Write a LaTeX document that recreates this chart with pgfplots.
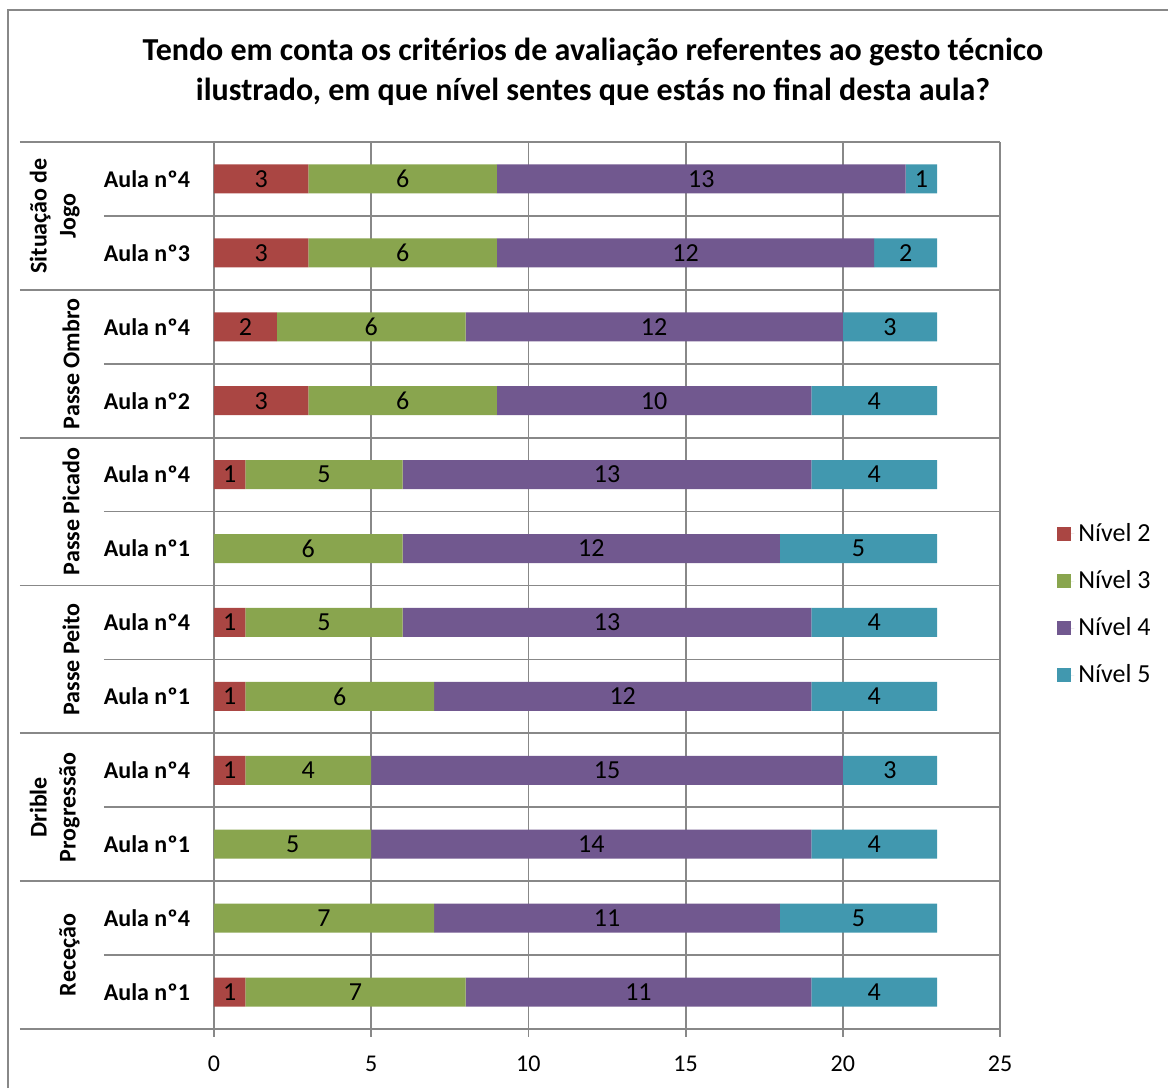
\documentclass[border=0pt]{standalone}
\usepackage{fontspec}
\setmainfont{Carlito}
\usepackage{pgfplots}
\usepackage{pgfplotstable}
\pgfplotsset{compat=1.18}
\definecolor{c2}{HTML}{AA4643}
\definecolor{c3}{HTML}{89A54E}
\definecolor{c4}{HTML}{71588F}
\definecolor{c5}{HTML}{4198AF}
\definecolor{gridc}{HTML}{888888}
\pgfplotstableread{
row n2 n3 n4 n5
0 1 7 11 4
1 0 7 11 5
2 0 5 14 4
3 1 4 15 3
4 1 6 12 4
5 1 5 13 4
6 0 6 12 5
7 1 5 13 4
8 3 6 10 4
9 2 6 12 3
10 3 6 12 2
11 3 6 13 1
}\data
\pgfplotsset{
  common/.style={at={(107pt,29.5pt)}, anchor=south west,
    width=393pt, height=443.5pt, scale only axis,
    xmin=0, xmax=25, ymin=-0.5, ymax=11.5, clip=false},
}
\tikzset{glab/.style={rotate=90, anchor=south, inner sep=0pt, align=center, font=\bfseries\fontsize{12}{14.5}\selectfont}}
\begin{document}
\begin{tikzpicture}[x=1pt,y=1pt]
\path[use as bounding box] (0,0) rectangle (584,544);
\draw[gridc, line width=1pt] (4,0) -- (4,539) -- (584,539);
\node[font=\bfseries\fontsize{16}{20}\selectfont, align=center] at (296.5,508) {Tendo em conta os critérios de avaliação referentes ao gesto técnico\\ilustrado, em que nível sentes que estás no final desta aula?};
\begin{axis}[
  common,
  xbar stacked, bar width=14.5pt,
  xtick={0,5,...,25},
  ytick={0,...,11},
  yticklabels={Aula nº1, Aula nº4, Aula nº1, Aula nº4, Aula nº1, Aula nº4, Aula nº1, Aula nº4, Aula nº2, Aula nº4, Aula nº3, Aula nº4},
  axis line style={draw=none},
  xmajorgrids, grid style={gridc, line width=0.9pt},
  xtick pos=left, tick align=outside, major tick length=4pt,
  xtick style={draw=gridc, line width=0.9pt},
  ytick style={draw=none},
  /pgf/number format/assume math mode=true,
  tick label style={font=\fontsize{12}{14}\selectfont},
  yticklabel style={font=\bfseries\fontsize{12}{14}\selectfont, xshift=-4.5pt},
  xticklabel style={yshift=-6pt},
  legend style={at={(1.0725,0.4785)}, anchor=west, draw=none, fill=none, font=\fontsize{13}{15}\selectfont, row sep=9pt, inner sep=0pt},
  legend cell align=left,
  legend image code/.code={\fill[#1] (0pt,-3.5pt) rectangle (7pt,3.5pt); \path (0pt,0pt) -- (8.5pt,0pt);},
]
\addplot[fill=c2, draw=none] table[x=n2, y=row] {\data};
\addplot[fill=c3, draw=none] table[x=n3, y=row] {\data};
\addplot[fill=c4, draw=none] table[x=n4, y=row] {\data};
\addplot[fill=c5, draw=none] table[x=n5, y=row] {\data};
\legend{Nível 2, Nível 3, Nível 4, Nível 5}
\pgfplotsinvokeforeach{-0.5,1.5,3.5,5.5,7.5,9.5,11.5}{
  \draw[gridc, line width=0.9pt] ([xshift=-97pt]axis cs:0,#1) -- (axis cs:25,#1);
}
\pgfplotsinvokeforeach{0.5,2.5,4.5,6.5,8.5,10.5}{
  \draw[gridc, line width=0.9pt] ([xshift=-55pt]axis cs:0,#1) -- (axis cs:25,#1);
}
\node[glab] at ([xshift=-67pt]axis cs:0,0.5) {Receção};
\node[glab] at ([xshift=-67pt]axis cs:0,2.5) {Drible\\Progressão};
\node[glab] at ([xshift=-67pt]axis cs:0,4.5) {Passe Peito};
\node[glab] at ([xshift=-67pt]axis cs:0,6.5) {Passe Picado};
\node[glab] at ([xshift=-67pt]axis cs:0,8.5) {Passe Ombro};
\node[glab] at ([xshift=-67pt]axis cs:0,10.5) {Situação de\\Jogo};
\end{axis}
\begin{axis}[common, hide axis]
\addplot[only marks, mark=*, mark size=0pt, mark options={draw=none, fill=none},
  point meta=explicit symbolic, nodes near coords,
  every node near coord/.append style={anchor=center, font=\fontsize{13}{15}\selectfont, text=black, inner sep=0pt}]
coordinates {
(0.5,0)[1] (4.5,0)[7] (13.5,0)[11] (21,0)[4]
(3.5,1)[7] (12.5,1)[11] (20.5,1)[5]
(2.5,2)[5] (12,2)[14] (21,2)[4]
(0.5,3)[1] (3,3)[4] (12.5,3)[15] (21.5,3)[3]
(0.5,4)[1] (4,4)[6] (13,4)[12] (21,4)[4]
(0.5,5)[1] (3.5,5)[5] (12.5,5)[13] (21,5)[4]
(3,6)[6] (12,6)[12] (20.5,6)[5]
(0.5,7)[1] (3.5,7)[5] (12.5,7)[13] (21,7)[4]
(1.5,8)[3] (6,8)[6] (14,8)[10] (21,8)[4]
(1,9)[2] (5,9)[6] (14,9)[12] (21.5,9)[3]
(1.5,10)[3] (6,10)[6] (15,10)[12] (22,10)[2]
(1.5,11)[3] (6,11)[6] (15.5,11)[13] (22.5,11)[1]
};
\end{axis}
\end{tikzpicture}
\end{document}
